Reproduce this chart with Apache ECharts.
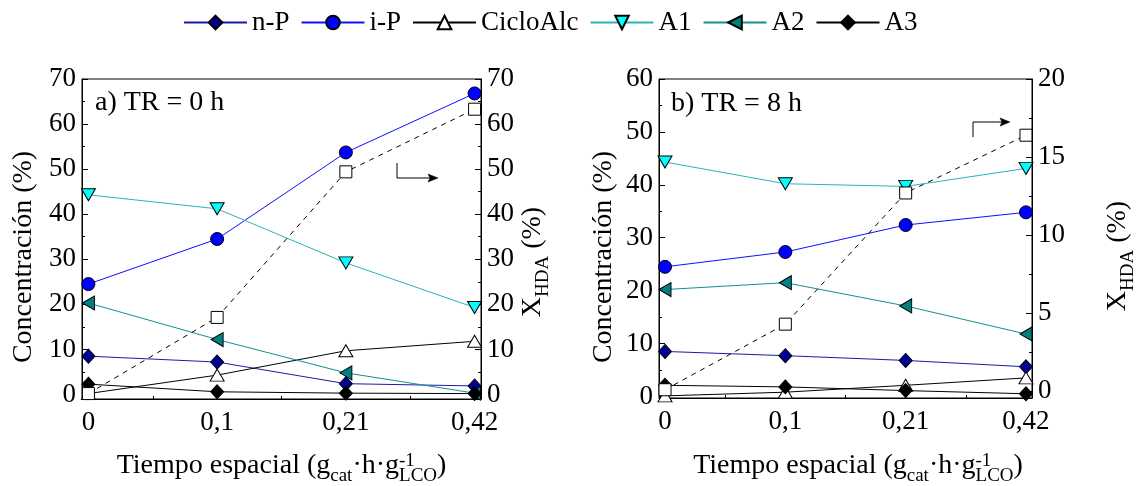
<!DOCTYPE html>
<html>
<head>
<meta charset="utf-8">
<script src="https://cdn.jsdelivr.net/npm/echarts@6/dist/echarts.min.js"></script>
<style>
  html, body { margin: 0; padding: 0; background: #fff; }
  #chart { width: 1140px; height: 486px; }
</style>
</head>
<body>
<div id="chart"></div>
<script>
// ---------- data ----------
const categories = ['0', '0,1', '0,21', '0,42'];          // tiempo espacial
const seriesNames = ['n-P', 'i-P', 'CicloAlc', 'A1', 'A2', 'A3'];

// a) TR = 0 h  — concentración (%)
const nP_0h       = [8.5, 7.2, 2.4, 1.9];
const iP_0h       = [24.5, 34.5, 53.7, 66.8];
const cicloAlc_0h = [0.2, 4.3, 9.7, 11.8];
const A1_0h       = [44.3, 41.2, 29.2, 19.3];
const A2_0h       = [20.3, 12.2, 4.8, 0.3];
const A3_0h       = [2.3, 0.6, 0.3, 0.2];
const xHDA_0h     = [0.2, 17.1, 49.4, 63.3];               // X_HDA (%)

// b) TR = 8 h
const nP_8h       = [8.5, 7.7, 6.8, 5.6];
const iP_8h       = [24.5, 27.3, 32.4, 34.8];
const cicloAlc_8h = [0.1, 0.8, 2.1, 3.5];
const A1_8h       = [44.3, 40.2, 39.7, 43.1];
const A2_8h       = [20.2, 21.5, 17.1, 11.8];
const A3_8h       = [2.1, 1.8, 1.1, 0.5];
const xHDA_8h     = [0.1, 4.3, 12.7, 16.4];

// tick values
const concTicks_0h  = [0, 10, 20, 30, 40, 50, 60, 70];
const concMinor_0h  = [5, 15, 25, 35, 45, 55, 65];
const xhdaTicks_0h  = [0, 10, 20, 30, 40, 50, 60, 70];
const xhdaMinor_0h  = [5, 15, 25, 35, 45, 55, 65];
const concTicks_8h  = [0, 10, 20, 30, 40, 50, 60];
const concMinor_8h  = [5, 15, 25, 35, 45, 55];
const xhdaTicks_8h  = [0, 5, 10, 15, 20];
const xhdaMinor_8h  = [2.5, 7.5, 12.5, 17.5];

// ---------- styles ----------
const FONT = "'Liberation Serif', 'Times New Roman', Times, serif";
const FS = 27;
const markStyles = {
  'n-P':      { symbol: 'diamond',  size: [13, 14], rotate: 0,   fill: '#000099', line: '#1c1ca8' },
  'i-P':      { symbol: 'circle',   size: 13,       rotate: 0,   fill: '#0000ff', line: '#1010ff' },
  'CicloAlc': { symbol: 'triangle', size: [14, 12], rotate: 0,   fill: '#ffffff', line: '#000000' },
  'A1':       { symbol: 'triangle', size: [14, 12], rotate: 180, fill: '#00ffff', line: '#2ab5b5' },
  'A2':       { symbol: 'triangle', size: [14, 12], rotate: 90,  fill: '#008080', line: '#158f8f' },
  'A3':       { symbol: 'diamond',  size: [13, 14], rotate: 0,   fill: '#000000', line: '#000000' }
};

const panels = [
  {
    grid: { left: 82, top: 79, width: 399, height: 320 },
    conc: { min: -1, max: 70, ticks: concTicks_0h, minor: concMinor_0h },
    xhda: { min: -1, max: 70, ticks: xhdaTicks_0h, minor: xhdaMinor_0h },
    values: { 'n-P': nP_0h, 'i-P': iP_0h, 'CicloAlc': cicloAlc_0h, 'A1': A1_0h, 'A2': A2_0h, 'A3': A3_0h },
    xhdaValues: xHDA_0h
  },
  {
    grid: { left: 659, top: 79, width: 373, height: 319 },
    conc: { min: -0.3, max: 60, ticks: concTicks_8h, minor: concMinor_8h },
    xhda: { min: -0.43, max: 20, ticks: xhdaTicks_8h, minor: xhdaMinor_8h },
    values: { 'n-P': nP_8h, 'i-P': iP_8h, 'CicloAlc': cicloAlc_8h, 'A1': A1_8h, 'A2': A2_8h, 'A3': A3_8h },
    xhdaValues: xHDA_8h
  }
];

const catPositions = categories.map((_, i) => i);
const catMinor = [0.5, 1.5, 2.5];

const tickLine = { color: '#000', width: 1 };
const labelStyle = { fontFamily: FONT, fontSize: FS, color: '#000' };

function valueAxisY(gridIndex, position, range, main) {
  return {
    type: 'value', gridIndex, position, min: range.min, max: range.max,
    axisLine: { show: main, onZero: false, lineStyle: tickLine },
    axisTick: { show: true, inside: true, length: main ? 6 : 3,
                customValues: main ? range.ticks : range.minor, lineStyle: tickLine },
    axisLabel: main
      ? Object.assign({ show: true, customValues: range.ticks, margin: 6 }, labelStyle)
      : { show: false },
    splitLine: { show: false }
  };
}

function categoryAxisX(gridIndex, main) {
  return {
    type: 'value', gridIndex, position: 'bottom', min: -0.05, max: 3.05,
    axisLine: { show: main, onZero: false, lineStyle: tickLine },
    axisTick: { show: true, inside: true, length: main ? 6 : 3,
                customValues: main ? catPositions : catMinor, lineStyle: tickLine },
    axisLabel: main
      ? Object.assign({ show: true, customValues: catPositions, margin: 10,
                        formatter: v => categories[Math.round(v)] }, labelStyle)
      : { show: false },
    splitLine: { show: false }
  };
}

const grids = [], xAxes = [], yAxes = [], series = [];
panels.forEach((p, k) => {
  grids.push(Object.assign({ show: true, borderColor: '#000', borderWidth: 1, backgroundColor: 'transparent' }, p.grid));
  xAxes.push(categoryAxisX(k, true), categoryAxisX(k, false));
  yAxes.push(
    valueAxisY(k, 'left', p.conc, true),
    valueAxisY(k, 'left', p.conc, false),
    valueAxisY(k, 'right', p.xhda, true),
    valueAxisY(k, 'right', p.xhda, false)
  );
  seriesNames.forEach(name => {
    const s = markStyles[name];
    series.push({
      type: 'line', name,
      xAxisIndex: 2 * k, yAxisIndex: 4 * k,
      data: p.values[name].map((v, i) => [i, v]),
      symbol: s.symbol, symbolSize: s.size, symbolRotate: s.rotate,
      showSymbol: true,
      itemStyle: { color: s.fill, borderColor: '#000', borderWidth: 1 },
      lineStyle: { color: s.line, width: 1 },
      emphasis: { disabled: true },
      animation: false
    });
  });
  series.push({
    type: 'line', name: 'X_HDA',
    xAxisIndex: 2 * k, yAxisIndex: 4 * k + 2,
    data: p.xhdaValues.map((v, i) => [i, v]),
    symbol: 'rect', symbolSize: 12, showSymbol: true,
    itemStyle: { color: '#fff', borderColor: '#000', borderWidth: 1 },
    lineStyle: { color: '#000', width: 1, type: [5, 5] },
    emphasis: { disabled: true },
    animation: false,
    z: 3
  });
});

// ---------- text helpers ----------
const measureCtx = document.createElement('canvas').getContext('2d');
function textWidth(str, size) {
  measureCtx.font = size + 'px ' + FONT;
  return measureCtx.measureText(str).width;
}

const SUB = 19;
const richTitle = {
  m: { fontFamily: FONT, fontSize: 28, lineHeight: 40, verticalAlign: 'middle', fill: '#000', color: '#000' },
  s: { fontFamily: FONT, fontSize: SUB, lineHeight: SUB, verticalAlign: 'bottom', fill: '#000', color: '#000' }
};

function xTitle(centerX, y) {
  const parts = [['m', 'Tiempo espacial (g'], ['s', 'cat'], ['m', '\u00b7h\u00b7g'], ['s', 'LCO'], ['m', ')']];
  const widths = parts.map(([t, s]) => textWidth(s, t === 'm' ? 28 : SUB));
  const total = widths.reduce((a, b) => a + b, 0);
  const left = centerX - total / 2;
  const supX = left + widths[0] + widths[1] + widths[2];
  return [
    { type: 'text', x: left, y, silent: true,
      style: { text: parts.map(([t, s]) => '{' + t + '|' + s + '}').join(''), rich: richTitle,
               align: 'left', verticalAlign: 'middle', textAlign: 'left', textVerticalAlign: 'middle' } },
    { type: 'text', x: supX, y: y - 4, silent: true,
      style: { text: '-1', font: SUB + 'px ' + FONT, fill: '#000',
               align: 'left', verticalAlign: 'middle', textAlign: 'left', textVerticalAlign: 'middle' } }
  ];
}

function concTitle(x, y) {
  return { type: 'text', x, y, rotation: Math.PI / 2, silent: true,
    style: { text: 'Concentración (%)', font: '28px ' + FONT, fill: '#000',
             align: 'center', verticalAlign: 'middle', textAlign: 'center', textVerticalAlign: 'middle' } };
}

function xhdaTitle(x, y) {
  return { type: 'text', x, y, rotation: Math.PI / 2, silent: true,
    style: { text: '{m|X}{s|HDA}{m| (%)}', rich: richTitle,
             align: 'center', verticalAlign: 'middle', textAlign: 'center', textVerticalAlign: 'middle' } };
}

function panelTag(x, y, str) {
  return { type: 'text', x, y, silent: true,
    style: { text: str, font: '28px ' + FONT, fill: '#000',
             align: 'left', verticalAlign: 'middle', textAlign: 'left', textVerticalAlign: 'middle' } };
}

function elbowArrow(points) {
  const end = points[points.length - 1];
  return [
    { type: 'polyline', silent: true, shape: { points },
      style: { stroke: '#000', lineWidth: 1, fill: null } },
    { type: 'polygon', silent: true,
      shape: { points: [[end[0] + 5, end[1]], [end[0] - 5, end[1] - 4], [end[0] - 3, end[1]], [end[0] - 5, end[1] + 4]] },
      style: { fill: '#000', stroke: '#000', lineWidth: 0.5 } }
  ];
}

const graphics = [].concat(
  panelTag(95, 103, 'a) TR = 0 h'),
  panelTag(671, 104, 'b) TR = 8 h'),
  concTitle(24, 257),
  concTitle(604, 257),
  xhdaTitle(533, 262),
  xhdaTitle(1118, 256),
  xTitle(281.5, 465.5),
  xTitle(858, 465.5),
  elbowArrow([[397, 163], [397, 178], [433, 178]]),
  elbowArrow([[973, 137], [973, 122], [1005, 122]])
);

const chart = echarts.init(document.getElementById('chart'), null, { renderer: 'canvas' });
chart.setOption({
  backgroundColor: '#fff',
  animation: false,
  textStyle: { fontFamily: FONT },
  legend: {
    data: seriesNames, left: 183, top: 9, padding: 0,
    itemWidth: 63, itemHeight: 17, itemGap: 11,
    selectedMode: false,
    textStyle: { fontFamily: FONT, fontSize: FS, color: '#000' }
  },
  grid: grids,
  xAxis: xAxes,
  yAxis: yAxes,
  series,
  graphic: { elements: graphics }
});
</script>
</body>
</html>
